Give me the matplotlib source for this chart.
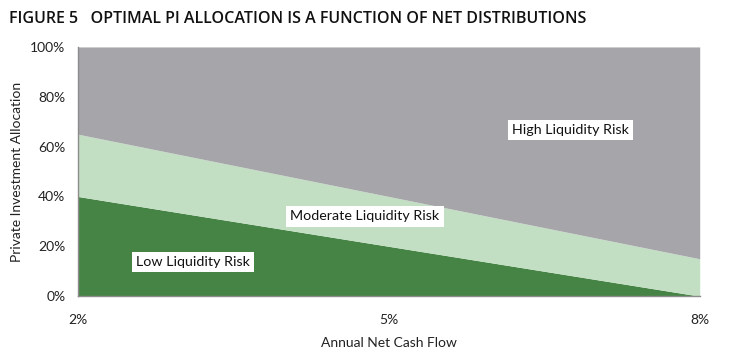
import matplotlib
matplotlib.use("Agg")
import matplotlib.pyplot as plt

x = [2, 8]
low = [40, 0]
moderate_top = [65, 15]
high_top = [100, 100]
xticks = [2, 5, 8]
xticklabels = ["2%", "5%", "8%"]
yticks = [0, 20, 40, 60, 80, 100]
yticklabels = ["0%", "20%", "40%", "60%", "80%", "100%"]

plt.rcParams['font.family'] = ['Lato', 'DejaVu Sans']

fig = plt.figure(figsize=(7.42, 3.53), dpi=100)
ax = fig.add_axes([0.105, 0.161, 0.838, 0.706])

ax.fill_between(x, 0, low, color="#468446", lw=0)
ax.fill_between(x, low, moderate_top, color="#c3dfc3", lw=0)
ax.fill_between(x, moderate_top, high_top, color="#a6a6aa", lw=0)

ax.set_xlim(2, 8)
ax.set_ylim(0, 100)
ax.set_xticks(xticks)
ax.set_xticklabels(xticklabels)
ax.set_yticks(yticks)
ax.set_yticklabels(yticklabels)
ax.tick_params(axis='both', length=0, labelsize=10, colors="#222222")
ax.tick_params(axis='x', pad=13)
ax.tick_params(axis='y', pad=9)
for s in ['top', 'right']:
    ax.spines[s].set_visible(False)
for s in ['left', 'bottom']:
    ax.spines[s].set_color("#8c8c8c")
    ax.spines[s].set_linewidth(1)

ax.set_xlabel("Annual Net Cash Flow", fontsize=10, labelpad=8, color="#222222")
ax.set_ylabel("Private Investment Allocation", fontsize=10, labelpad=5, color="#222222")

box = dict(facecolor="white", edgecolor="none", pad=3)
ax.text(6.75, 66.7, "High Liquidity Risk", fontsize=10.3, ha="center", va="center", bbox=box, color="#111111")
ax.text(4.77, 32, "Moderate Liquidity Risk", fontsize=10.3, ha="center", va="center", bbox=box, color="#111111")
ax.text(3.11, 13.7, "Low Liquidity Risk", fontsize=10.3, ha="center", va="center", bbox=box, color="#111111")

fig.text(0.012, 0.945, "FIGURE 5   OPTIMAL PI ALLOCATION IS A FUNCTION OF NET DISTRIBUTIONS",
         fontsize=11.55, fontweight="semibold", color="#111111", ha="left", va="center",
         family=["Open Sans", "DejaVu Sans"], fontstretch="condensed")

fig.savefig("out.png", dpi=100)
